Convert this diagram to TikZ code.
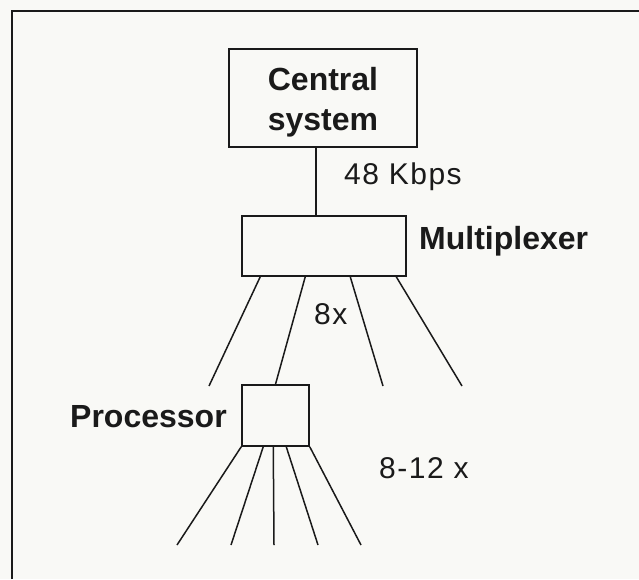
\documentclass[tikz,border=0pt]{standalone}
\usepackage{fontspec}
\setmainfont{Liberation Sans}
\usepackage{xcolor}
\definecolor{netbg}{HTML}{F9F9F6}
\definecolor{netink}{HTML}{1A1A1A}
\usetikzlibrary{positioning,calc}
\tikzset{
  netbox/.style={draw=netink,line width=1.5pt,inner sep=0pt},
  netname/.style={font=\fontsize{32}{40}\selectfont\bfseries,text=netink,inner sep=0pt},
  netcount/.style={font=\fontsize{30}{36}\selectfont\addfontfeature{LetterSpace=5},text=netink,inner sep=0pt},
  netlink/.style={draw=netink,line width=1.5pt},
}

\begin{document}
\begin{tikzpicture}[x=1pt,y=-1pt]
\useasboundingbox[fill=netbg] (0,0) rectangle (639,579);
% outer frame, only top and left edges show
\draw[netlink,line width=2pt] (12,579) -- (12,11) -- (639,11);

\node[netbox,netname,align=center,minimum width=188pt,minimum height=98pt] (central) at (323,98) {\rule{0pt}{32pt}Central\\system};
\node[netbox,minimum width=164pt,minimum height=60pt] (mux) at (324,246) {};
\draw[netlink] ([xshift=-7pt]central.south) -- ([xshift=-8pt]mux.north);
\node[netcount,anchor=base west] (rate) at (344,184) {48 Kbps};
\node[netname,anchor=base west] (muxname) at (419,249) {Multiplexer};

% lines out of the multiplexer
\node[netbox,minimum width=67pt,minimum height=61pt] (proc) at (275.5,415.5) {};
\coordinate (mA) at (209,386);
\coordinate (mC) at (383,386);
\coordinate (mD) at (462,386);
\draw[netlink] ([xshift=19pt]mux.south west) -- (mA);
\draw[netlink] ([xshift=64pt]mux.south west) -- (proc.north);
\draw[netlink] ([xshift=109pt]mux.south west) -- (mC);
\draw[netlink] ([xshift=155pt]mux.south west) -- (mD);
\node[netcount,anchor=base west] (muxcount) at (314,324) {8x};
\node[netname,anchor=base west] (procname) at (70,427) {Processor};

% lines out of the processor
\coordinate (pA) at (177,545);
\coordinate (pB) at (231,545);
\coordinate (pC) at (274,545);
\coordinate (pD) at (318,545);
\coordinate (pE) at (361,545);
\draw[netlink] (proc.south west) -- (pA);
\draw[netlink] ([xshift=22pt]proc.south west) -- (pB);
\draw[netlink] ([xshift=32pt]proc.south west) -- (pC);
\draw[netlink] ([xshift=45pt]proc.south west) -- (pD);
\draw[netlink] (proc.south east) -- (pE);
\node[netcount,anchor=base west] (proccount) at (379,478) {8-12 x};
\end{tikzpicture}
\end{document}
